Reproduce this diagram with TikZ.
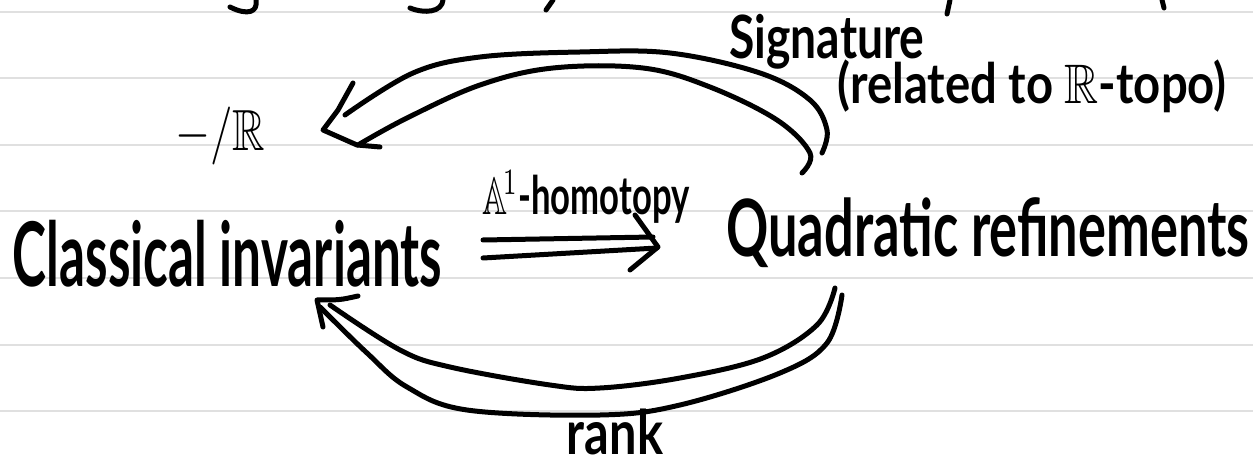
\documentclass[tikz,border=0pt]{standalone}
\usepackage{fontspec}
\usepackage{amssymb}
\usepackage{graphicx}
\setmainfont{Lato}
\tikzset{
  hw/.style={inner sep=0pt, outer sep=0pt, anchor=center, font=\bfseries},
  ink/.style={line width=5pt, line cap=round, line join=round, black},
  rule/.style={line width=2pt, black!12},
}
\begin{document}
\begin{tikzpicture}[x=1pt, y=-1pt]
\useasboundingbox (0,0) rectangle (1253,462);
\fill[white] (0,0) rectangle (1253,462);
% ruled paper
\foreach \yy in {12,78.5,145,211.5,278,344.5,411}
  \draw[rule] (0,\yy) -- (1253,\yy);
% cut-off handwriting at the top edge
\draw[ink] (256,0) .. controls (258,12) and (248,16) .. (230,7);
\draw[ink] (443,0) .. controls (442,12) and (425,14) .. (410,8);
\draw[ink] (553,0) -- (546,10);
\draw[ink] (950,0) -- (947,14);
\draw[ink] (1162,0) -- (1164,8);
% texts
\node[hw] (cls)  at (227.5,253.5) {\resizebox*{429pt}{67pt}{Classical invariants}};
\node[hw] (quad) at (988,233)     {\resizebox*{523pt}{70pt}{Quadratic refinements}};
\node[hw] (hom)  at (586,197)     {\resizebox*{207pt}{52pt}{$\mathbb{A}^{\!1}$-homotopy}};
\node[hw] (mr)   at (220,136)     {\resizebox*{90pt}{58pt}{$-/\mathbb{R}$}};
\node[hw] (sig)  at (827,42)      {\resizebox*{195pt}{55pt}{Signature}};
\node[hw] (rel)  at (1032,86)     {\resizebox*{389pt}{53pt}{(related to $\mathbb{R}$-topo)}};
\node[hw] (rank) at (615,432)     {\resizebox*{96pt}{46pt}{rank}};
% A^1-homotopy double arrow
\coordinate (hs1) at (483,240);
\coordinate (he1) at (653,237);
\coordinate (hs2) at (483,258);
\coordinate (he2) at (657,248);
\coordinate (htip) at (658,247);
\draw[ink] (hs1) -- (he1);
\draw[ink] (hs2) -- (he2);
\draw[ink] (635,215) -- (htip) -- (630,270);
% top hollow arrow: Quadratic -> -/R
\coordinate (ttip) at (323,130);
\draw[ink] plot[smooth, tension=0.6] coordinates {(345,115) (413,73) (480,57) (580,52) (670,53) (760,73) (810,100) (827,130) (822,153)};
\draw[ink] plot[smooth, tension=0.6] coordinates {(358,145) (407,118) (480,85) (553,68) (643,68) (710,87) (777,120) (810,153) (802,173)};
\draw[ink] (353,83) -- (338,110) -- (ttip) -- (357,145) -- (380,147);
% bottom hollow arrow: Quadratic -> Classical
\coordinate (btip) at (317,300);
\draw[ink] plot[smooth, tension=0.6] coordinates {(330,305) (400,350) (450,367) (550,385) (600,388) (680,378) (763,358) (817,325) (835,288)};
\draw[ink] plot[smooth, tension=0.6] coordinates {(320,307) (367,353) (407,387) (467,410) (600,415) (680,405) (780,373) (827,343) (842,295)};
\draw[ink] (358,296) .. controls (340,300) .. (btip) -- (323,327);
\end{tikzpicture}
\end{document}
